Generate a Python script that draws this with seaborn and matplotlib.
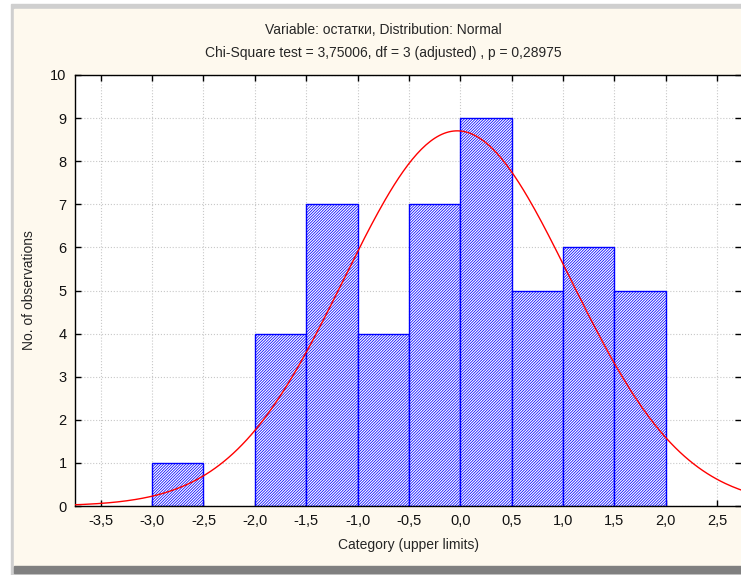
import numpy as np
import pandas as pd
import matplotlib
matplotlib.use('Agg')
import matplotlib.pyplot as plt
from matplotlib.patches import Rectangle
import seaborn as sns

# ── DATA ──────────────────────────────────────────────────────────────
bin_edges  = [-3.0, -2.5, -2.0, -1.5, -1.0, -0.5, 0.0, 0.5, 1.0, 1.5, 2.0]
counts     = [1, 0, 4, 7, 4, 7, 9, 5, 6, 5]
x_ticks    = [-3.5, -3.0, -2.5, -2.0, -1.5, -1.0, -0.5, 0.0, 0.5, 1.0, 1.5, 2.0, 2.5]
y_ticks    = list(range(0, 11))
FIT_MEAN   = -0.03      # fitted normal
FIT_SD     = 1.10
N_OBS      = sum(counts)
BIN_W      = 0.5

title1 = "Variable: остатки, Distribution: Normal"
title2 = "Chi-Square test = 3,75006, df = 3 (adjusted) , p = 0,28975"

# ── STYLE ─────────────────────────────────────────────────────────────
sns.set_style("white")
plt.rcParams['font.family'] = ['Liberation Sans Narrow', 'Liberation Sans', 'DejaVu Sans']
plt.rcParams['hatch.color'] = '#0000ff'
plt.rcParams['hatch.linewidth'] = 0.55

W, H = 741, 575
fig = plt.figure(figsize=(W / 100, H / 100), dpi=100, facecolor='white')

def px(x0, y0, w, h, color):
    fig.patches.append(Rectangle((x0 / W, 1 - (y0 + h) / H), w / W, h / H,
                                 transform=fig.transFigure, color=color, zorder=-5))

px(11, 4, W - 11, 571, '#cfcfcf')       # grey frame
px(14, 9, W - 14, 558, '#fef9ee')       # cream panel
px(14, 566, W - 14, 7, '#808080')       # dark bottom bar

# axes: left 75px, top 75px, bottom 506px, cut off at right edge
ax = fig.add_axes([75 / W, 1 - 506 / H, (W - 75) / W, (506 - 75) / H])
ax.set_facecolor('white')

df = pd.DataFrame({'mid': [e + BIN_W / 2 for e in bin_edges[:-1]], 'n': counts})
sns.histplot(data=df, x='mid', weights='n', bins=bin_edges, ax=ax,
             color='white', edgecolor='#0000ff', linewidth=1.0, alpha=1, zorder=2)
for p in ax.patches:
    if p.get_height() > 0:
        p.set_hatch('/' * 12)
    else:
        p.set_visible(False)

xs = np.linspace(-3.8, 2.8, 300)
ys = N_OBS * BIN_W / (FIT_SD * np.sqrt(2 * np.pi)) * np.exp(-(xs - FIT_MEAN) ** 2 / (2 * FIT_SD ** 2))
sns.lineplot(x=xs, y=ys, ax=ax, color='#ff0000', linewidth=1.0, zorder=3)

ax.set_xlim(-3.75, -3.75 + (W - 75) / 102.75)
ax.set_ylim(0, 10)
ax.set_xticks(x_ticks)
ax.set_xticklabels([f"{t:.1f}".replace('.', ',') for t in x_ticks])
ax.set_yticks(y_ticks)
ax.grid(True, color='#c8c8c8', linestyle=':', linewidth=0.8, zorder=0)
ax.set_axisbelow(True)
ax.tick_params(direction='in', length=4, width=1, color='black', labelsize=10.5,
               top=True, right=True, bottom=True, left=True, pad=6,
               labelcolor='#111111')
for side in ['left', 'bottom', 'top']:
    ax.spines[side].set_color('black')
    ax.spines[side].set_linewidth(1.0)
ax.spines['right'].set_visible(False)
ax.set_xlabel("Category (upper limits)", fontsize=10, labelpad=7)
ax.set_ylabel("No. of observations", fontsize=10, labelpad=10)

fig.text(383 / W, 1 - 30 / H, title1, ha='center', va='center', fontsize=10)
fig.text(383 / W, 1 - 53 / H, title2, ha='center', va='center', fontsize=10)

fig.savefig("out.png", dpi=100, facecolor=fig.get_facecolor())
